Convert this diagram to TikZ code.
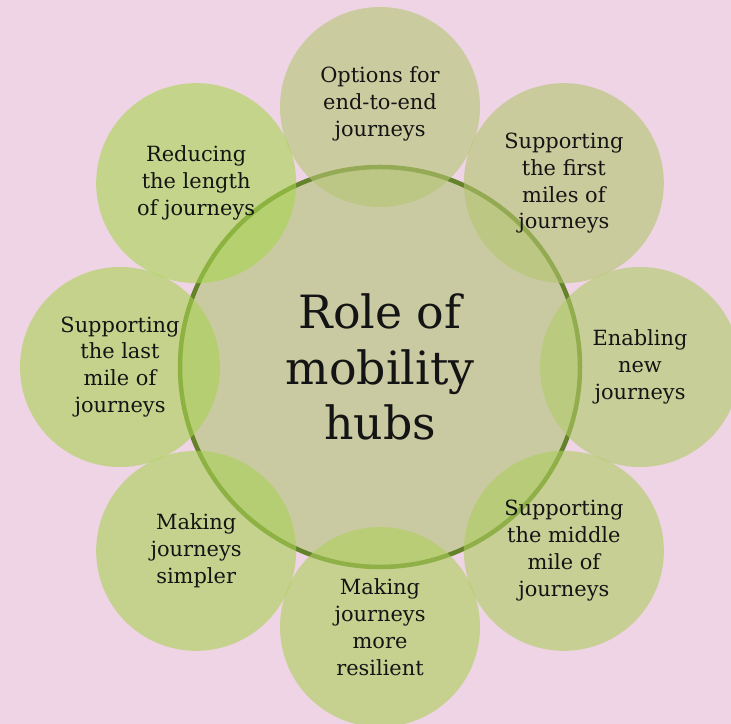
\documentclass[tikz,border=0pt]{standalone}
\usepackage{fontspec}
\setmainfont{DejaVu Serif}
\usepackage{tikz}
\usetikzlibrary{positioning,calc}

\definecolor{bgPink}{RGB}{238,212,228}
\definecolor{hubFill}{RGB}{202,202,162}
\definecolor{hubRing}{RGB}{100,130,42}
\definecolor{petalGrey}{RGB}{180,197,115}
\definecolor{petalGreen}{RGB}{168,212,78}
\definecolor{inkBlack}{RGB}{20,20,20}

\begin{document}
\begin{tikzpicture}[x=1bp,y=1bp]

\tikzset{
	hubCircle/.style={
		circle,
		fill=hubFill,
		draw=hubRing,
		line width=4.5bp,
		minimum size=400bp,
		inner sep=0pt,
		align=center,
		text=inkBlack,
		font=\fontsize{46}{56}\selectfont
	}
}

\tikzset{
	roleCircle/.style={
		circle,
		fill=#1,
		fill opacity=0.6,
		text opacity=1,
		minimum size=200bp,
		inner sep=0pt,
		align=center,
		text=inkBlack,
		font=\fontsize{21}{27}\selectfont
	}
}

% page background
\fill[bgPink] (0,0) rectangle (731,724);
\useasboundingbox (0,0) rectangle (731,724);

\node[hubCircle] (hub) at (380,357) {Role of\\mobility\\hubs};

\node[roleCircle=petalGreen!0!petalGrey] (Options) at ($(hub)+(90:260)$) {};
\node[roleCircle=petalGreen!10!petalGrey] (First) at ($(hub)+(45:260)$) {};
\node[roleCircle=petalGreen!35!petalGrey] (New) at ($(hub)+(0:260)$) {};
\node[roleCircle=petalGreen!55!petalGrey] (Middle) at ($(hub)+(-45:260)$) {};
\node[roleCircle=petalGreen!70!petalGrey] (Resilient) at ($(hub)+(-90:260)$) {};
\node[roleCircle=petalGreen!80!petalGrey] (Simpler) at ($(hub)+(-135:260)$) {};
\node[roleCircle=petalGreen!90!petalGrey] (Last) at ($(hub)+(180:260)$) {};
\node[roleCircle=petalGreen!100!petalGrey] (Length) at ($(hub)+(135:260)$) {};

% labels sit on top of every circle
\node[roleCircle=none, fill opacity=0] at ([yshift=3]Options) {Options for\\end-to-end\\journeys};
\node[roleCircle=none, fill opacity=0] at (First) {Supporting\\the first\\miles of\\journeys};
\node[roleCircle=none, fill opacity=0] at (New) {Enabling\\new\\journeys};
\node[roleCircle=none, fill opacity=0] at (Middle) {Supporting\\the middle\\mile of\\journeys};
\node[roleCircle=none, fill opacity=0] at (Resilient) {Making\\journeys\\more\\resilient};
\node[roleCircle=none, fill opacity=0] at (Simpler) {Making\\journeys\\simpler};
\node[roleCircle=none, fill opacity=0] at (Last) {Supporting\\the last\\mile of\\journeys};
\node[roleCircle=none, fill opacity=0] at (Length) {Reducing\\the length\\of journeys};

\end{tikzpicture}
\end{document}
